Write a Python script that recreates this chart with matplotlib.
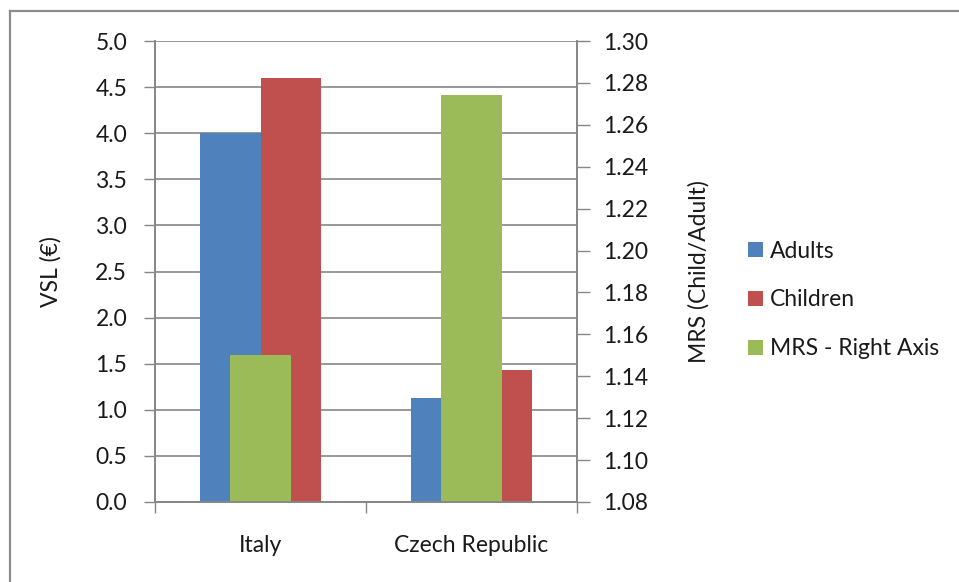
import matplotlib
matplotlib.use("Agg")
import matplotlib.pyplot as plt
from matplotlib.lines import Line2D
from matplotlib.patches import Patch
import numpy as np

# Data
countries = ["Italy", "Czech Republic"]
vsl_adults = [4.00, 1.13]
vsl_children = [4.60, 1.435]
mrs_ratio = [1.150, 1.274]

left_ticks = [0.0, 0.5, 1.0, 1.5, 2.0, 2.5, 3.0, 3.5, 4.0, 4.5, 5.0]
right_ticks = [1.08, 1.10, 1.12, 1.14, 1.16, 1.18, 1.20, 1.22, 1.24, 1.26, 1.28, 1.30]

C_BLUE = "#4F81BD"
C_RED = "#C0504D"
C_GREEN = "#9BBB59"
C_AXIS = "#868686"
C_TEXT = "#1A1A1A"
FONT = "Lato"
FS = 16.5

W, H = 959, 582
fig = plt.figure(figsize=(W / 100, H / 100), dpi=100)
plt.rcParams["font.family"] = [FONT, "DejaVu Sans"]

# Chart area border (top and left edges visible)
fig.add_artist(Line2D([10 / W, 1.0], [1 - 11 / H, 1 - 11 / H], color="#8C8C8C", lw=1.6))
fig.add_artist(Line2D([10 / W, 10 / W], [0.0, 1 - 11 / H], color="#8C8C8C", lw=1.6))

x0, x1, y0, y1 = 155, 577, 41, 502
ax = fig.add_axes([x0 / W, 1 - y1 / H, (x1 - x0) / W, (y1 - y0) / H])
ax2 = ax.twinx()

x = np.arange(len(countries))
w = 1 / 3.5
ax.bar(x - w / 2, vsl_adults, w, color=C_BLUE, zorder=2)
ax.bar(x + w / 2, vsl_children, w, color=C_RED, zorder=2)
ax2.bar(x, mrs_ratio, w, color=C_GREEN, zorder=2)

ax.set_xlim(-0.5, 1.5)
ax.set_ylim(0, 5)
ax2.set_ylim(1.08, 1.30)

ax.set_yticks(left_ticks)
ax.set_yticklabels([f"{t:.1f}" for t in left_ticks])
ax2.set_yticks(right_ticks)
ax2.set_yticklabels([f"{t:.2f}" for t in right_ticks])

ax.set_xticks(x)
ax.set_xticklabels(countries)
ax.set_xticks([-0.5, 0.5, 1.5], minor=True)
ax.tick_params(axis="x", which="major", length=0, pad=24, labelsize=FS, labelcolor=C_TEXT)
ax.tick_params(axis="x", which="minor", length=8, width=1, color=C_AXIS, direction="out")
ax.tick_params(axis="y", length=8, width=1, color=C_AXIS, direction="out", pad=12,
               labelsize=FS, labelcolor=C_TEXT)
ax2.tick_params(axis="y", length=9, width=1, color=C_AXIS, direction="out", pad=10,
                labelsize=FS, labelcolor=C_TEXT)

ax.yaxis.grid(True, color=C_AXIS, lw=1.2, zorder=0)
ax.set_axisbelow(True)

for a in (ax, ax2):
    a.spines["top"].set_visible(False)
    for s in ("left", "right", "bottom"):
        a.spines[s].set_color(C_AXIS)
        a.spines[s].set_linewidth(1.2)

ax.set_ylabel("VSL (€)", fontsize=FS, color=C_TEXT)
ax.yaxis.set_label_coords((62 - x0) / (x1 - x0), 0.5)
ax2.set_ylabel("MRS (Child/Adult)", fontsize=FS, color=C_TEXT)
ax2.yaxis.set_label_coords((688 - x0) / (x1 - x0), 0.5)

handles = [Patch(facecolor=C_BLUE), Patch(facecolor=C_RED), Patch(facecolor=C_GREEN)]
fig.legend(handles, ["Adults", "Children", "MRS - Right Axis"],
           loc="center left", bbox_to_anchor=(737 / W, 1 - 300 / H),
           frameon=False, fontsize=FS, handlelength=0.62, handleheight=0.62,
           handletextpad=0.3, labelspacing=1.22, borderpad=0)
for t in fig.legends[0].get_texts():
    t.set_color(C_TEXT)

fig.savefig("out.png", dpi=100, facecolor="white")
